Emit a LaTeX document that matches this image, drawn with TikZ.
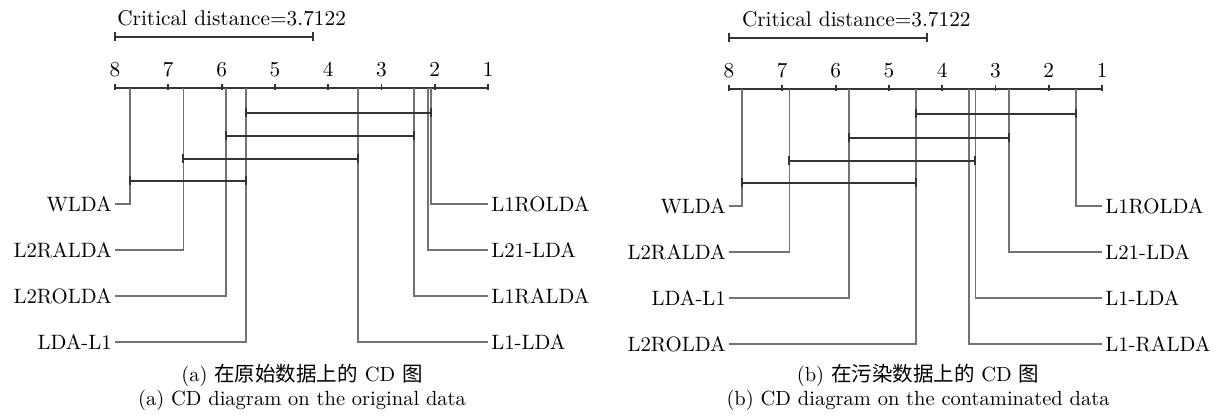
\documentclass[tikz,border=0pt]{standalone}
\usepackage{fontspec}
\setmainfont{lmroman10-regular.otf}
\newfontfamily\cjk{Noto Sans CJK SC}
\begin{document}
\begin{tikzpicture}[x=1pt,y=-1pt,
  axisline/.style={line width=2.4pt, draw=black!80},
  tickmark/.style={line width=1.8pt, draw=black!80},
  cdbar/.style={line width=2.2pt, draw=black!80},
  capline/.style={line width=1.8pt, draw=black!80},
  joinbar/.style={line width=2.2pt, draw=black!80},
  leader/.style={line width=1.4pt, draw=black!55},
  lab/.style={font=\fontsize{20.8}{25}\selectfont, inner ysep=0pt, inner xsep=3pt},
  num/.style={font=\fontsize{21.3}{25}\selectfont, inner sep=0pt},
  capt/.style={font=\fontsize{20.5}{25}\selectfont, inner sep=0pt}]
\useasboundingbox (0,0) rectangle (1222,419);

% a method whose line leaves the axis at rank #2 and ends at a label on the left
\newcommand\leftmethod[4]{%
  \coordinate (#1top) at (#2,\axisy);
  \node[lab, anchor=east] (#1) at (8,#3) {#4};
  \draw[leader] (#1top) |- (#1.east);}
% the same for a label on the right
\newcommand\rightmethod[4]{%
  \coordinate (#1top) at (#2,\axisy);
  \node[lab, anchor=west] (#1) at (1,#3) {#4};
  \draw[leader] (#1top) |- (#1.west);}
% bar joining methods that are not significantly different
\newcommand\cliquebar[3]{%
  \draw[joinbar] (#1,#3) -- (#2,#3);
  \draw[capline] (#1,#3-4.5) -- (#1,#3+4.5) (#2,#3-4.5) -- (#2,#3+4.5);}
% rank axis, tick numbers and critical-distance bar
\newcommand\rankaxis[3]{%
  \draw[axisline] (8,\axisy) coordinate (#1a8) -- (1,\axisy) coordinate (#1a1);
  \foreach \i in {1,...,8} {
    \draw[tickmark] (\i,\axisy-3.5) -- (\i,\axisy+2.5);
    \node[num, anchor=base] (#1t\i) at (\i,\axisy-11) {\i};
  }
  \draw[cdbar] (8,#2) coordinate (#1cd0) -- (4.2878,#2) coordinate (#1cd1);
  \draw[capline] (8,#2-4.5) -- (8,#2+4.5) (4.2878,#2-4.5) -- (4.2878,#2+4.5);
  \node[num, anchor=base west] (#1cdt) at (#3,#2-11) {Critical distance=3.7122};}

% ---------- (a) original data ----------
\begin{scope}[xshift=541.4pt, x=-53.3pt]
  \def\axisy{88}
  \rankaxis{A}{37}{7.96}
  \leftmethod{AWLDA}{7.72}{204}{WLDA}
  \leftmethod{AL2RALDA}{6.72}{250}{L2RALDA}
  \leftmethod{AL2ROLDA}{5.92}{296}{L2ROLDA}
  \leftmethod{ALDAL1}{5.54}{342}{LDA-L1}
  \rightmethod{AL1ROLDA}{2.07}{204}{L1ROLDA}
  \rightmethod{AL21LDA}{2.13}{250}{L21-LDA}
  \rightmethod{AL1RALDA}{2.39}{296}{L1RALDA}
  \rightmethod{AL1LDA}{3.44}{342}{L1-LDA}
  \cliquebar{5.54}{2.07}{113}
  \cliquebar{5.92}{2.39}{136}
  \cliquebar{6.72}{3.44}{159}
  \cliquebar{7.72}{5.54}{181}
\end{scope}

% ---------- (b) contaminated data ----------
\begin{scope}[xshift=1155.4pt, x=-53.3pt]
  \def\axisy{89}
  \rankaxis{B}{38}{7.76}
  \leftmethod{BWLDA}{7.76}{206}{WLDA}
  \leftmethod{BL2RALDA}{6.87}{252}{L2RALDA}
  \leftmethod{BLDAL1}{5.75}{298}{LDA-L1}
  \leftmethod{BL2ROLDA}{4.49}{344}{L2ROLDA}
  \rightmethod{BL1ROLDA}{1.49}{206}{L1ROLDA}
  \rightmethod{BL21LDA}{2.75}{252}{L21-LDA}
  \rightmethod{BL1LDA}{3.38}{298}{L1-LDA}
  \rightmethod{BL1RALDA}{3.50}{344}{L1-RALDA}
  \cliquebar{4.49}{1.49}{114}
  \cliquebar{5.75}{2.75}{138}
  \cliquebar{6.87}{3.38}{161}
  \cliquebar{7.76}{4.49}{183}
\end{scope}

% ---------- captions ----------
\node[capt, anchor=base] (capAzh) at (302,381) {(a) {\cjk 在原始数据上的} CD {\cjk 图}};
\node[capt, anchor=base] (capAen) at (302,405) {(a) CD diagram on the original data};
\node[capt, anchor=base] (capBzh) at (918,381) {(b) {\cjk 在污染数据上的} CD {\cjk 图}};
\node[capt, anchor=base] (capBen) at (918,405) {(b) CD diagram on the contaminated data};
\end{tikzpicture}
\end{document}
